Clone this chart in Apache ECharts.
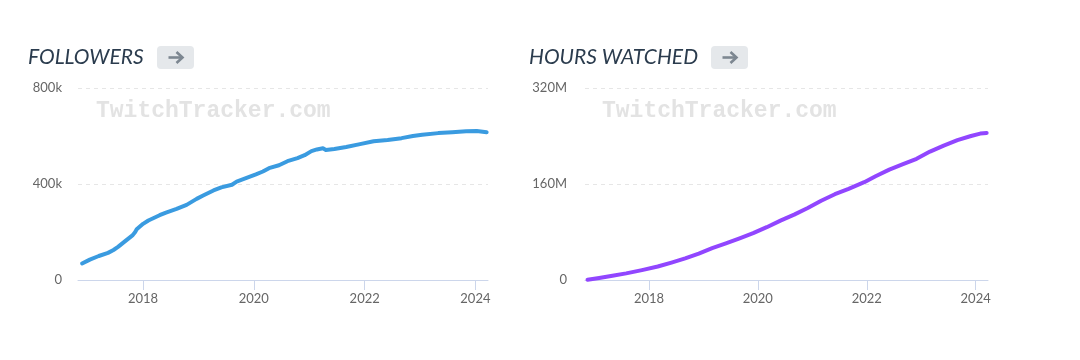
<!DOCTYPE html>
<html>
<head>
<meta charset="utf-8">
<script src="https://cdn.jsdelivr.net/npm/echarts@6/dist/echarts.min.js"></script>
<style>
html,body{margin:0;padding:0;background:#fff;}
#chart{width:1080px;height:360px;}
</style>
</head>
<body>
<div id="chart"></div>
<script>
// ---- data ----
const titles = ['FOLLOWERS', 'HOURS WATCHED'];
const watermark = 'TwitchTracker.com';
const xTickYears = [2018, 2020, 2022, 2024];
const followersTicks = [0, 400000, 800000];
const hoursTicks = [0, 160000000, 320000000];

const followerDates = ['2016-11-25','2017-01-15','2017-03-15','2017-05-15','2017-06-20','2017-07-20','2017-09-01','2017-10-25','2017-11-10','2017-11-20','2018-01-01','2018-02-05','2018-04-20','2018-06-01','2018-08-10','2018-10-15','2018-12-20','2019-02-01','2019-04-10','2019-06-01','2019-08-10','2019-09-10','2019-11-10','2020-01-15','2020-03-01','2020-04-10','2020-06-15','2020-08-10','2020-10-15','2020-12-01','2021-01-15','2021-02-20','2021-04-01','2021-04-20','2021-06-15','2021-09-01','2021-12-01','2022-03-01','2022-06-01','2022-09-01','2022-11-15','2023-01-15','2023-05-01','2023-08-01','2023-11-01','2024-01-10','2024-03-15'];
const followerValues = [69000,85000,100000,113000,125000,138000,160000,187000,200000,211000,234000,248000,270000,281000,296000,313000,338000,352000,373000,386000,397000,410000,424000,440000,452000,466000,478000,495000,508000,520000,537000,544000,549000,542000,546000,554000,566000,578000,583000,591000,600000,605000,612000,616000,620000,621000,616000];

const hoursDates = ['2016-11-15','2017-02-01','2017-05-01','2017-08-01','2017-11-15','2018-03-01','2018-06-01','2018-09-01','2018-12-01','2019-03-01','2019-06-01','2019-09-01','2019-12-01','2020-03-01','2020-06-01','2020-09-01','2020-12-01','2021-03-01','2021-06-01','2021-09-01','2021-12-15','2022-03-01','2022-06-01','2022-09-01','2022-12-01','2023-03-01','2023-06-01','2023-09-01','2023-12-01','2024-02-01','2024-03-15'];
const hoursValues = [500000,3500000,7000000,11000000,16500000,22500000,29000000,36000000,44000000,53000000,61000000,69500000,78000000,88000000,99000000,109000000,120000000,132000000,143000000,152000000,163000000,173000000,184000000,193000000,202000000,214000000,224000000,233000000,240000000,244000000,245000000];

const axisStart = '2016-10-29';
const axisEnd = '2024-03-24';

// ---- build ----
const ts = d => new Date(d + 'T00:00:00Z').getTime();
const tickVals = xTickYears.map(y => Date.UTC(y, 0, 1));
const pairs = (ds, vs) => ds.map((d, i) => [ts(d), vs[i]]);

const chart = echarts.init(document.getElementById('chart'), null, {renderer: 'canvas'});

function xAxis(gi) {
  return {
    type: 'value', gridIndex: gi, min: ts(axisStart), max: ts(axisEnd), scale: true,
    axisLine: {show: true, onZero: false, lineStyle: {color: '#ccd6eb', width: 1}},
    axisTick: {show: true, customValues: tickVals, length: 10, lineStyle: {color: '#ccd6eb'}},
    axisLabel: {customValues: tickVals, margin: 12, color: '#666666', fontFamily: 'Lato', fontSize: 13,
      showMinLabel: true, showMaxLabel: true,
      formatter: v => String(new Date(v).getUTCFullYear())},
    splitLine: {show: false}
  };
}
function yAxis(gi, ticks, fmt, margin) {
  return {
    type: 'value', gridIndex: gi, min: ticks[0], max: ticks[ticks.length - 1],
    interval: ticks[1] - ticks[0],
    axisLine: {show: false}, axisTick: {show: false},
    axisLabel: {margin: margin, color: '#666666', fontFamily: 'Lato', fontSize: 13, formatter: fmt},
    splitLine: {show: true, showMinLine: false, lineStyle: {color: '#e6e6e6', type: [4, 4], width: 1}}
  };
}

function header(x, title, btnX) {
  return [
    {type: 'text', left: x, top: 47, style: {text: title, font: 'italic 21px Lato', fill: '#2b3c4e'}},
    {type: 'rect', shape: {x: btnX, y: 46, width: 37, height: 23, r: 4}, style: {fill: '#e5e8eb'}},
    {type: 'polyline', shape: {points: [[btnX + 11.5, 57.5], [btnX + 25, 57.5]]}, style: {stroke: '#7d8791', lineWidth: 2.6, fill: null}},
    {type: 'polyline', shape: {points: [[btnX + 19.5, 52], [btnX + 25.5, 57.5], [btnX + 19.5, 63]]}, style: {stroke: '#7d8791', lineWidth: 2.6, fill: null}}
  ];
}

const option = {
  animation: false,
  backgroundColor: '#ffffff',
  grid: [
    {left: 78, top: 88, width: 410, height: 192, containLabel: false},
    {left: 585, top: 88, width: 403, height: 192, containLabel: false}
  ],
  xAxis: [xAxis(0), xAxis(1)],
  yAxis: [
    yAxis(0, followersTicks, v => v === 0 ? '0' : (v / 1000) + 'k', 16),
    yAxis(1, hoursTicks, v => v === 0 ? '0' : (v / 1000000) + 'M', 18)
  ],
  graphic: [
    ...header(28, titles[0], 157),
    ...header(529, titles[1], 711),
    {type: 'text', left: 96, top: 100, z: 0, style: {text: watermark, font: 'bold 23px "Liberation Mono"', fill: '#e3e3e3'}},
    {type: 'text', left: 602, top: 100, z: 0, style: {text: watermark, font: 'bold 23px "Liberation Mono"', fill: '#e3e3e3'}}
  ],
  series: [
    {type: 'line', xAxisIndex: 0, yAxisIndex: 0, data: pairs(followerDates, followerValues), showSymbol: false,
      lineStyle: {color: '#3a9be0', width: 4, cap: 'round', join: 'round'}, z: 5},
    {type: 'line', xAxisIndex: 1, yAxisIndex: 1, data: pairs(hoursDates, hoursValues), showSymbol: false,
      lineStyle: {color: '#9146ff', width: 4, cap: 'round', join: 'round'}, z: 5}
  ]
};
chart.setOption(option);
</script>
</body>
</html>
